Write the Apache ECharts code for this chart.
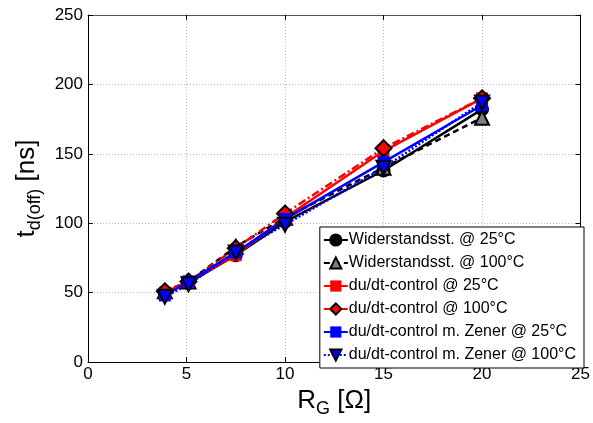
<!DOCTYPE html>
<html>
<head>
<meta charset="utf-8">
<script src="https://cdn.jsdelivr.net/npm/echarts@6/dist/echarts.min.js"></script>
<style>
html,body{margin:0;padding:0;background:#fff;}
#chart{width:593px;height:423px;}
</style>
</head>
<body>
<div id="chart"></div>
<script>
// Data
const rg = [3.9, 5.1, 7.5, 10, 15, 20];
const widerstand25 = [50, 57, 77, 101, 138, 182];
const widerstand100 = [51, 58, 83, 104, 140, 176];
const dudt25 = [50, 58, 77, 104, 152, 190];
const dudt100 = [51, 58, 82, 107, 154, 190];
const zener25 = [48, 58, 79, 103, 144, 185];
const zener100 = [47, 56, 79, 99, 140, 187];
const seriesNames = [
  'Widerstandsst. @ 25°C',
  'Widerstandsst. @ 100°C',
  'du/dt-control @ 25°C',
  'du/dt-control @ 100°C',
  'du/dt-control m. Zener @ 25°C',
  'du/dt-control m. Zener @ 100°C'
];
const xTicks = [0, 5, 10, 15, 20, 25];
const yTicks = [0, 50, 100, 150, 200, 250];

const FONT = 'Liberation Sans, Arial, sans-serif';
const pair = (ys) => rg.map((x, i) => [x, ys[i]]);

function mk(name, ys, color, lineType, symbol, fill, border, size) {
  return {
    name: name,
    type: 'line',
    data: pair(ys),
    symbol: symbol,
    symbolSize: size,
    showAllSymbol: true,
    lineStyle: { color: color, width: 2.5, type: lineType },
    itemStyle: { color: fill, borderColor: border, borderWidth: border ? 2 : 0 },
    emphasis: { disabled: true },
    animation: false
  };
}

const chart = echarts.init(document.getElementById('chart'));
const axisCommon = {
  type: 'value',
  axisLine: { show: true, lineStyle: { color: '#000', width: 1 } },
  axisTick: { show: true, inside: true, length: 5, lineStyle: { color: '#000' } },
  splitLine: { show: true, lineStyle: { color: '#bbb', type: [1, 2], width: 1 } },
  axisLabel: { color: '#000', fontSize: 17, fontFamily: FONT }
};
chart.setOption({
  backgroundColor: '#fff',
  animation: false,
  grid: { left: 88, right: 8.5, top: 15, bottom: 59 },
  legend: {
    orient: 'vertical',
    right: 9,
    top: 227,
    data: seriesNames,
    backgroundColor: '#fff',
    borderColor: '#000',
    borderWidth: 1,
    padding: [5, 8, 5, 3],
    itemWidth: 24,
    itemHeight: 14,
    itemGap: 7,
    textStyle: { fontSize: 16, fontFamily: FONT, color: '#000', padding: [0, 0, 0, -4] }
  },
  xAxis: [
    Object.assign({}, axisCommon, {
      min: 0, max: 25, interval: 5,
      axisLabel: Object.assign({}, axisCommon.axisLabel, { margin: 4 }),
      name: '{m|R}{s|G}{m| [Ω]}',
      nameLocation: 'middle',
      nameGap: 19,
      nameTextStyle: {
        fontFamily: FONT, color: '#000',
        rich: {
          m: { fontSize: 26, fontFamily: FONT, color: '#000' },
          s: { fontSize: 18, fontFamily: FONT, color: '#000', padding: [16, 0, 0, 0] }
        }
      }
    }),
    {
      type: 'value', position: 'top', min: 0, max: 25, interval: 5,
      axisLine: { show: true, onZero: false, lineStyle: { color: '#555' } },
      axisTick: { show: true, inside: true, length: 5, lineStyle: { color: '#000' } },
      axisLabel: { show: false }, splitLine: { show: false }
    }
  ],
  yAxis: [
    Object.assign({}, axisCommon, {
      min: 0, max: 250, interval: 50,
      axisLabel: Object.assign({}, axisCommon.axisLabel, { margin: 5 }),
      name: '{m|t}{s|d(off)}{m| [ns]}',
      nameLocation: 'middle',
      nameRotate: 90,
      nameGap: 42,
      nameTextStyle: {
        fontFamily: FONT, color: '#000',
        rich: {
          m: { fontSize: 26, fontFamily: FONT, color: '#000' },
          s: { fontSize: 18, fontFamily: FONT, color: '#000', padding: [16, 0, 0, 0] }
        }
      }
    }),
    {
      type: 'value', position: 'right', min: 0, max: 250, interval: 50,
      axisLine: { show: true, onZero: false, lineStyle: { color: '#000' } },
      axisTick: { show: true, inside: true, length: 5, lineStyle: { color: '#000' } },
      axisLabel: { show: false }, splitLine: { show: false }
    }
  ],
  series: [
    mk(seriesNames[0], widerstand25, '#000', 'solid', 'circle', '#000', '#000', 12),
    mk(seriesNames[1], widerstand100, '#000', [6, 4], 'triangle', '#808080', '#000', 14),
    mk(seriesNames[2], dudt25, '#ff0000', 'solid', 'rect', '#ff0000', null, 12),
    mk(seriesNames[3], dudt100, '#ff0000', [8, 3, 2, 3], 'diamond', '#ff0000', '#000', 16),
    mk(seriesNames[4], zener25, '#0000ff', 'solid', 'rect', '#0000ff', null, 12),
    mk(seriesNames[5], zener100, '#0000ff', [2, 2], 'path://M0,0 L10,0 L5,9 Z', '#0000ff', '#000', 14)
  ]
});
</script>
</body>
</html>
